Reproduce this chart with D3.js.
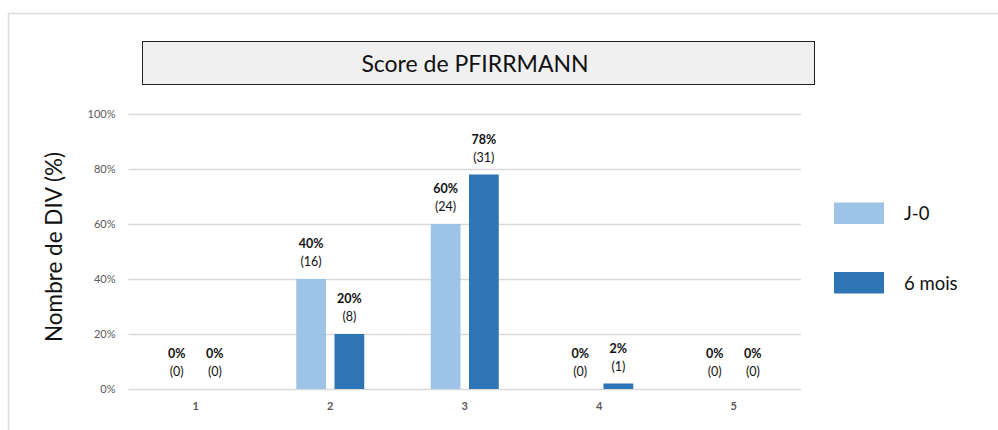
<!DOCTYPE html>
<html>
<head>
<meta charset="utf-8">
<script src="https://cdn.jsdelivr.net/npm/d3@7"></script>
<style>
  html, body { margin: 0; padding: 0; background: #fff; }
  svg { display: block; font-family: Lato, "Open Sans", sans-serif; }
</style>
</head>
<body>
<svg id="chart" width="998" height="430"></svg>
<script>
// Pfirrmann grade distribution, baseline vs. 6 months
const categories = ["1", "2", "3", "4", "5"];
const seriesNames = ["J-0", "6 mois"];
const pctJ0 = [0, 40, 60, 0, 0];
const pct6m = [0, 20, 78, 2, 0];
const countJ0 = [0, 16, 24, 0, 0];
const count6m = [0, 8, 31, 1, 0];
const yTicks = [0, 20, 40, 60, 80, 100];
const colors = ["#9dc3e6", "#2e75b6"];

const series = [
  { name: seriesNames[0], pct: pctJ0, cnt: countJ0, color: colors[0] },
  { name: seriesNames[1], pct: pct6m, cnt: count6m, color: colors[1] }
];

const svg = d3.select("#chart");

// outer frame (top and left edges)
svg.append("path")
  .attr("d", "M8.5,430 V13.5 H998")
  .attr("fill", "none")
  .attr("stroke", "#dcdcdc")
  .attr("stroke-width", 1.5);

// title box
svg.append("rect")
  .attr("x", 142.5).attr("y", 41.5)
  .attr("width", 672).attr("height", 43)
  .attr("fill", "#f0f0f0")
  .attr("stroke", "#222")
  .attr("stroke-width", 1);
svg.append("text")
  .attr("x", 475).attr("y", 72)
  .attr("text-anchor", "middle")
  .attr("font-size", 23)
  .attr("fill", "#111")
  .text("Score de PFIRRMANN");

const plot = { left: 128.5, right: 801, top: 114, bottom: 389 };

const x = d3.scaleBand()
  .domain(categories)
  .range([plot.left, plot.right])
  .paddingInner(0)
  .paddingOuter(0);

const y = d3.scaleLinear()
  .domain([0, 100])
  .range([plot.bottom, plot.top]);

const sub = d3.scaleBand()
  .domain(seriesNames)
  .range([-34, 34])
  .paddingInner(0.222)
  .paddingOuter(0);

// gridlines + y tick labels
const yAxis = d3.axisLeft(y)
  .tickValues(yTicks)
  .tickFormat(d => d + "%")
  .tickSize(-(plot.right - plot.left))
  .tickPadding(13);
const gy = svg.append("g")
  .attr("transform", `translate(${plot.left},0)`)
  .call(yAxis);
gy.select(".domain").remove();
gy.selectAll(".tick line").attr("stroke", "#d9d9d9").attr("stroke-width", 1.5);
gy.selectAll(".tick text")
  .attr("fill", "#595959")
  .attr("font-size", 11)
  .attr("font-family", "Lato, 'Open Sans', sans-serif");

// x tick labels
const xAxis = d3.axisBottom(x).tickSize(0).tickPadding(13);
const gx = svg.append("g")
  .attr("transform", `translate(0,${plot.bottom})`)
  .call(xAxis);
gx.select(".domain").remove();
gx.selectAll(".tick text")
  .attr("fill", "#595959")
  .attr("font-size", 11)
  .attr("font-weight", "bold")
  .attr("font-family", "Lato, 'Open Sans', sans-serif");

// bars and value labels
series.forEach(s => {
  const g = svg.append("g");
  const cx = i => x(categories[i]) + x.bandwidth() / 2 + sub(s.name);
  g.selectAll("rect")
    .data(s.pct)
    .join("rect")
    .attr("x", (d, i) => cx(i))
    .attr("width", sub.bandwidth())
    .attr("y", d => y(d))
    .attr("height", d => y(0) - y(d))
    .attr("fill", s.color);

  const lab = g.selectAll("g.lab")
    .data(s.pct)
    .join("g")
    .attr("class", "lab")
    .attr("transform", (d, i) => `translate(${cx(i) + sub.bandwidth() / 2},${y(d)})`);
  lab.append("text")
    .attr("y", -31)
    .attr("text-anchor", "middle")
    .attr("font-size", 12.5)
    .attr("font-weight", "bold")
    .attr("fill", "#111")
    .text(d => d + "%");
  lab.append("text")
    .attr("y", -13)
    .attr("text-anchor", "middle")
    .attr("font-size", 12.5)
    .attr("fill", "#111")
    .text((d, i) => "(" + s.cnt[i] + ")");
});

// y-axis title
svg.append("text")
  .attr("transform", "translate(62,247) rotate(-90)")
  .attr("text-anchor", "middle")
  .attr("font-size", 22.5)
  .attr("fill", "#111")
  .text("Nombre de DIV (%)");

// legend
const legend = svg.append("g");
const legendY = [202.5, 272];
series.forEach((s, i) => {
  legend.append("rect")
    .attr("x", 834).attr("y", legendY[i])
    .attr("width", 50).attr("height", 21.5)
    .attr("fill", s.color);
  legend.append("text")
    .attr("x", 904).attr("y", legendY[i] + 17.5)
    .attr("font-size", 18.5)
    .attr("fill", "#111")
    .text(s.name);
});
</script>
</body>
</html>
